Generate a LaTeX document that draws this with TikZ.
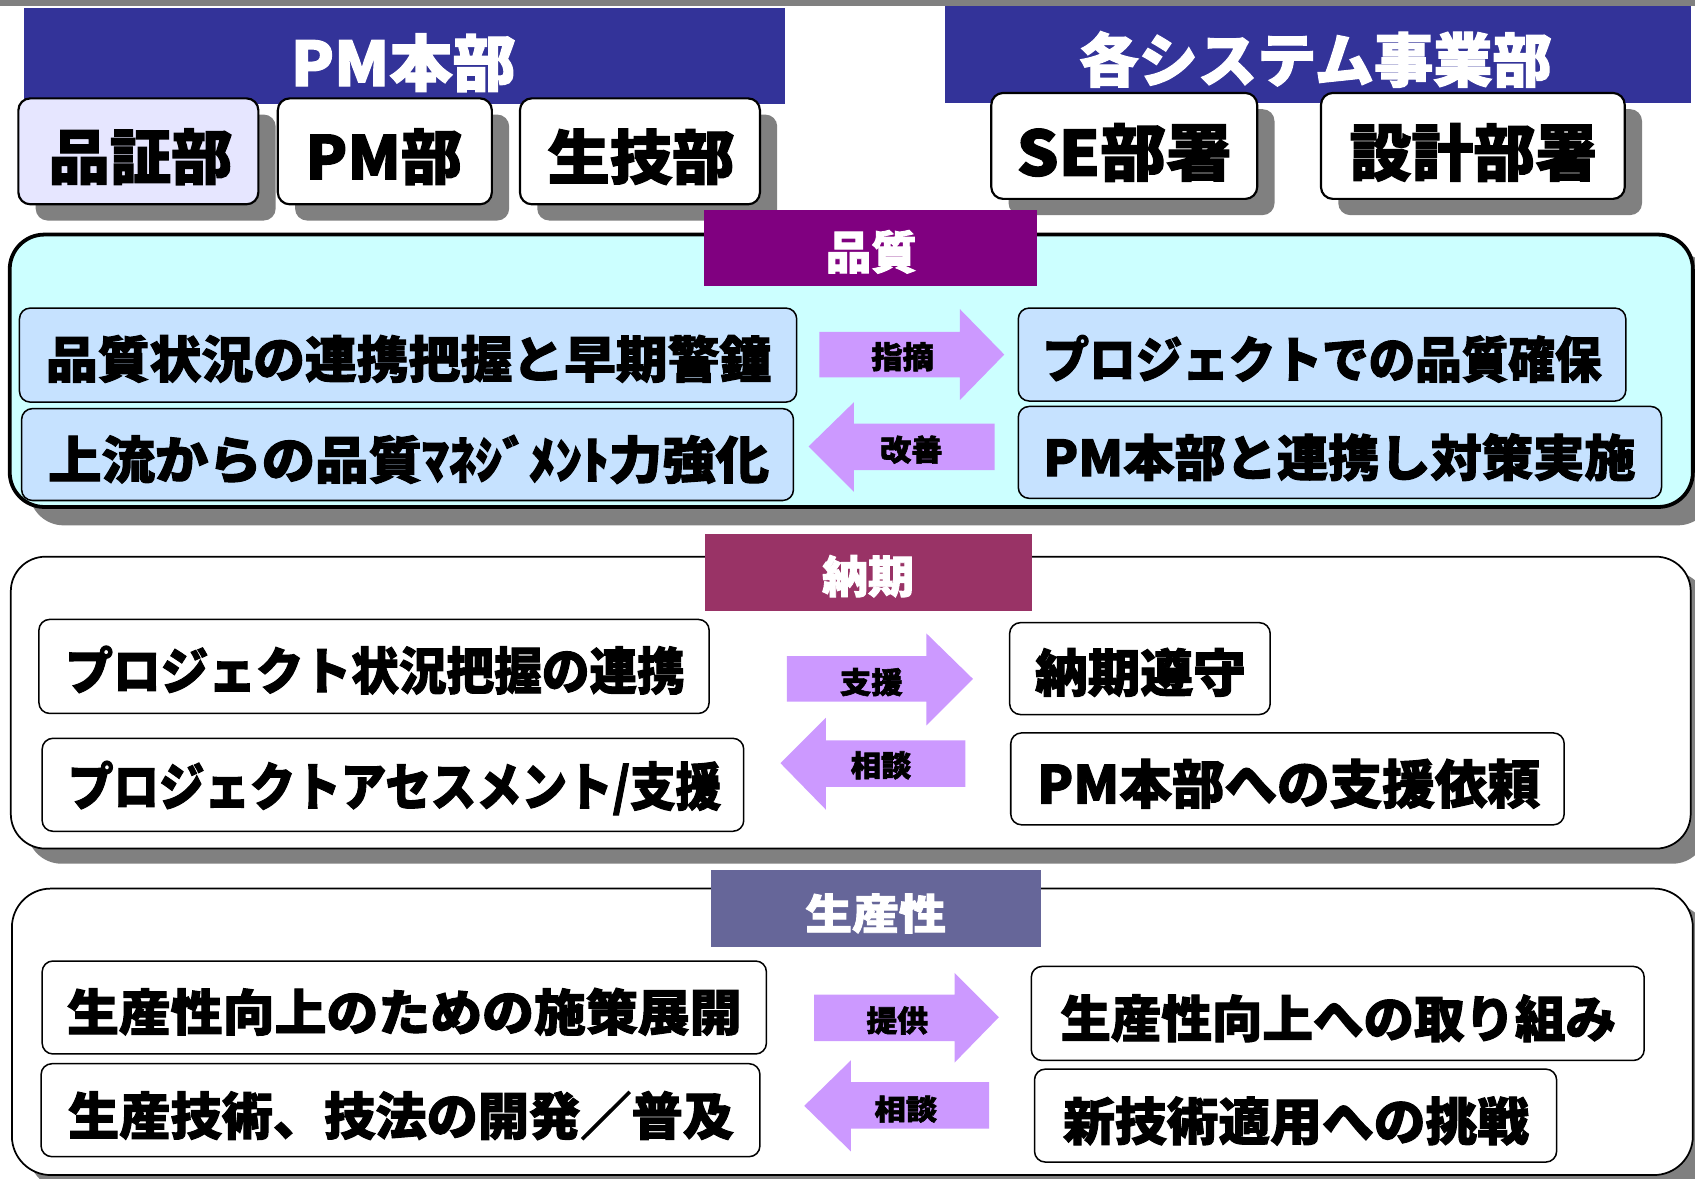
\documentclass[tikz,border=0pt]{standalone}
\usepackage{fontspec}
\usepackage{graphicx}
\newfontfamily\jp[BoldFeatures={FakeBold=2}]{Noto Sans CJK JP}
\usetikzlibrary{shadows}
\definecolor{bannerblue}{HTML}{333399}
\definecolor{shadowgray}{HTML}{808080}
\definecolor{lavender}{HTML}{E6E6FF}
\definecolor{qcyan}{HTML}{CCFFFF}
\definecolor{qblue}{HTML}{C6E2FF}
\definecolor{qpurple}{HTML}{800080}
\definecolor{dmagenta}{HTML}{993366}
\definecolor{pslate}{HTML}{666699}
\definecolor{arrowviolet}{HTML}{CC99FF}
% #1 width (px), #2 visible height (px), #3 text
\newcommand\fitt[3]{\resizebox{\dimexpr #1pt/2\relax}{\dimexpr #2pt*9/20\relax}{\jp\bfseries #3}}
% #1 style, #2 name, #3 x1, #4 y1, #5 x2, #6 y2
\newcommand\boxnode[6]{\node[#1, minimum width={(#5-#3)*0.5pt}, minimum height={(#6-#4)*0.5pt}] (#2) at ({(#3+#5)/2},{(#4+#6)/2}) {};}
\begin{document}
\begin{tikzpicture}[x=0.5pt,y=-0.5pt,
 banner/.style={fill=bannerblue, inner sep=0pt, outer sep=0pt},
 subbox/.style={draw=black, line width=1pt, rounded corners=5.5pt, inner sep=0pt,
   drop shadow={shadow xshift=8pt, shadow yshift=-7.5pt, fill=shadowgray, opacity=1}},
 qsection/.style={draw=black, line width=1.75pt, fill=qcyan, rounded corners=16pt, inner sep=0pt,
   drop shadow={shadow xshift=9pt, shadow yshift=-8.5pt, fill=shadowgray, opacity=1}},
 section/.style={draw=black, line width=0.8pt, fill=white, rounded corners=16pt, inner sep=0pt,
   drop shadow={shadow xshift=7.5pt, shadow yshift=-7pt, fill=shadowgray, opacity=1}},
 titlebox/.style={inner sep=0pt, outer sep=0pt},
 inbox/.style={draw=black, line width=0.7pt, rounded corners=5pt, inner sep=0pt},
 blockarrow/.style={fill=arrowviolet},
 txt/.style={inner sep=0pt, text=black},
 wtxt/.style={inner sep=0pt, text=white}]
\useasboundingbox (0,0) rectangle (1568,1090);
\fill[white] (0,0) rectangle (1568,1090);
\fill[shadowgray] (0,0) rectangle (1568,6);

% banners
\boxnode{banner}{pmhq}{22}{7}{726}{96}
\boxnode{banner}{sysdiv}{874}{6}{1564}{95}

% sub boxes
\boxnode{subbox, fill=lavender}{qa}{17}{91}{239}{189}
\boxnode{subbox, fill=white}{pm}{257}{91}{455}{189}
\boxnode{subbox, fill=white}{pe}{481}{91}{703}{189}
\boxnode{subbox, fill=white}{se}{917}{86}{1163}{184}
\boxnode{subbox, fill=white}{design}{1222}{86}{1503}{184}

% sections
\boxnode{qsection}{qsec}{9}{217}{1566}{469}
\boxnode{section}{dsec}{10}{515}{1564}{785}
\boxnode{section, rounded corners=18pt}{psec}{11}{822}{1566}{1087}

% section titles
\boxnode{titlebox, fill=qpurple}{qtitle}{651}{194}{959}{265}
\boxnode{titlebox, fill=dmagenta}{dtitle}{652}{494}{955}{565}
\boxnode{titlebox, fill=pslate}{ptitle}{658}{805}{963}{876}

% quality inner boxes
\boxnode{inbox, fill=qblue}{q1}{18}{285}{737}{372}
\boxnode{inbox, fill=qblue}{q2}{20}{378}{734}{463}
\boxnode{inbox, fill=qblue}{q3}{942}{285}{1504}{371}
\boxnode{inbox, fill=qblue}{q4}{942}{376}{1537}{461}
% delivery inner boxes
\boxnode{inbox, fill=white}{d1}{36}{573}{656}{660}
\boxnode{inbox, fill=white}{d2}{39}{683}{688}{769}
\boxnode{inbox, fill=white}{d3}{934}{576}{1175}{661}
\boxnode{inbox, fill=white}{d4}{935}{678}{1447}{763}
% productivity inner boxes
\boxnode{inbox, fill=white}{p1}{39}{889}{709}{975}
\boxnode{inbox, fill=white}{p2}{38}{984}{703}{1070}
\boxnode{inbox, fill=white}{p3}{954}{894}{1521}{981}
\boxnode{inbox, fill=white}{p4}{957}{989}{1440}{1075}

% block arrows
\fill[blockarrow] (758,307)--(888,307)--(888,286)--(929,328)--(888,370)--(888,349)--(758,349)--cycle;
\fill[blockarrow] (748,413)--(790,372)--(790,392)--(920,392)--(920,435)--(790,435)--(790,455)--cycle;
\fill[blockarrow] (728,607)--(857,607)--(857,586)--(900,628)--(857,671)--(857,649)--(728,649)--cycle;
\fill[blockarrow] (722,706)--(764,664)--(764,685)--(893,685)--(893,728)--(764,728)--(764,749)--cycle;
\fill[blockarrow] (753,920)--(883,920)--(883,900)--(924,941)--(883,983)--(883,963)--(753,963)--cycle;
\fill[blockarrow] (744,1023)--(787,981)--(787,1001)--(915,1001)--(915,1044)--(787,1044)--(787,1065)--cycle;

% texts
\node[wtxt] (t-pmhq) at (373,58) {\fitt{208}{54}{PM本部}};
\node[wtxt] (t-sysdiv) at (1217,55) {\fitt{437}{52}{各システム事業部}};
\node[txt] (t-qa) at (130,145) {\fitt{170}{52}{品証部}};
\node[txt] (t-pm) at (355,145) {\fitt{145}{52}{PM部}};
\node[txt] (t-pe) at (593,145) {\fitt{173}{52}{生技部}};
\node[txt] (t-se) at (1040,141) {\fitt{199}{54}{SE部署}};
\node[txt] (t-design) at (1363,141) {\fitt{229}{54}{設計部署}};

\node[wtxt] (t-qtitle) at (806,233) {\fitt{84}{40}{品質}};
\node[wtxt] (t-dtitle) at (803,533) {\fitt{85}{39}{納期}};
\node[wtxt] (t-ptitle) at (810,845) {\fitt{130}{37}{生産性}};

\node[txt] (t-q1) at (378,332) {\fitt{671}{44}{品質状況の連携把握と早期警鐘}};
\node[txt] (t-q2) at (378,425) {\fitt{667}{45}{上流からの品質ﾏﾈｼﾞﾒﾝﾄ力強化}};
\node[txt] (t-q3) at (1223,332) {\fitt{517}{44}{プロジェクトでの品質確保}};
\node[txt] (t-q4) at (1239,423) {\fitt{548}{44}{PM本部と連携し対策実施}};

\node[txt] (t-d1) at (347,620) {\fitt{573}{45}{プロジェクト状況把握の連携}};
\node[txt] (t-d2) at (365,729) {\fitt{604}{46}{プロジェクトアセスメント/支援}};
\node[txt] (t-d3) at (1055,622) {\fitt{195}{45}{納期遵守}};
\node[txt] (t-d4) at (1192,725) {\fitt{465}{46}{PM本部への支援依頼}};

\node[txt] (t-p1) at (374,936) {\fitt{624}{44}{生産性向上のための施策展開}};
\node[txt] (t-p2) at (371,1032) {\fitt{616}{45}{生産技術、技法の開発／普及}};
\node[txt] (t-p3) at (1238,942) {\fitt{514}{44}{生産性向上への取り組み}};
\node[txt] (t-p4) at (1199,1037) {\fitt{431}{45}{新技術適用への挑戦}};

% arrow labels
\node[txt] (l-1) at (835,330) {\fitt{58}{27}{指摘}};
\node[txt] (l-2) at (843,416) {\fitt{58}{26}{改善}};
\node[txt] (l-3) at (806,631) {\fitt{58}{26}{支援}};
\node[txt] (l-4) at (815,708) {\fitt{56}{26}{相談}};
\node[txt] (l-5) at (830,944) {\fitt{57}{26}{提供}};
\node[txt] (l-6) at (838,1026) {\fitt{58}{25}{相談}};
\end{tikzpicture}
\end{document}
